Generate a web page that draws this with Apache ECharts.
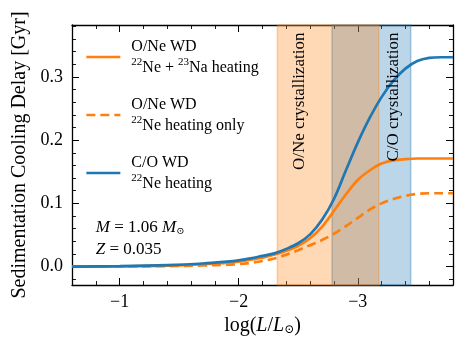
<!DOCTYPE html>
<html>
<head>
<meta charset="utf-8">
<script src="https://cdn.jsdelivr.net/npm/echarts@6/dist/echarts.min.js"></script>
<style>
  html, body { margin: 0; padding: 0; background: #fff; }
  #main { width: 468px; height: 352px; }
</style>
</head>
<body>
<div id="main"></div>
<script>
// log(L/Lsun) sample points
const lum = [-0.6, -1.0, -1.4, -1.7, -1.9, -2.0, -2.1, -2.2, -2.3, -2.4, -2.5, -2.6,
  -2.7, -2.8, -2.9, -3.0, -3.1, -3.2, -3.3, -3.4, -3.5, -3.6, -3.7, -3.8];

// sedimentation cooling delay [Gyr]
const oneFull = [0, 0.0005, 0.0015, 0.004, 0.006, 0.008, 0.011, 0.014, 0.019, 0.025, 0.033, 0.045,
  0.063, 0.088, 0.114, 0.137, 0.152, 0.163, 0.168, 0.170, 0.171, 0.171, 0.171, 0.171];
const oneNeOnly = [0, 0.0003, 0.0008, 0.0018, 0.003, 0.004, 0.006, 0.009, 0.013, 0.019, 0.026, 0.034,
  0.042, 0.052, 0.064, 0.077, 0.090, 0.100, 0.107, 0.112, 0.115, 0.116, 0.116, 0.116];
const coNe = [0, 0.0008, 0.0025, 0.005, 0.008, 0.010, 0.013, 0.017, 0.021, 0.028, 0.037, 0.051,
  0.074, 0.107, 0.152, 0.196, 0.235, 0.268, 0.294, 0.313, 0.325, 0.330, 0.331, 0.331];

// crystallization ranges in log(L/Lsun)
const oneCryst = [-2.325, -3.176];
const coCryst = [-2.784, -3.445];

const xTicks = [-1, -2, -3];
const yTicks = [0.0, 0.1, 0.2, 0.3];

const ORANGE = '#ff7f0e';
const BLUE = '#1f77b4';
const FONT = 'Liberation Serif';
const LW = 2.7;

function pairs(ys) {
  return lum.map((x, i) => [x, ys[i]]);
}
function minus(v) {
  return v < 0 ? '\u2212' + Math.abs(v) : String(v);
}

const rich = {
  sup: { fontSize: 11, lineHeight: 11, verticalAlign: 'top', fontFamily: FONT, color: '#000' },
  sub: { fontSize: 12, lineHeight: 12, verticalAlign: 'bottom', fontFamily: 'DejaVu Serif', color: '#000' },
  i: { fontStyle: 'italic', fontFamily: FONT, fontSize: 20, color: '#000' },
  ia: { fontStyle: 'italic', fontFamily: FONT, fontSize: 17, color: '#000' },
  sb: { fontSize: 10, fontFamily: 'DejaVu Serif', color: '#000', verticalAlign: 'bottom', lineHeight: 11 }
};

var chartDom = document.getElementById('main');
var myChart = echarts.init(chartDom, null, { renderer: 'canvas' });

const axisCommon = {
  type: 'value',
  splitLine: { show: false },
  axisLine: { show: true, onZero: false, lineStyle: { color: '#000', width: 1.3 } },
  axisTick: { show: true, inside: true, length: 7, lineStyle: { color: '#000', width: 1 } },
  minorTick: { show: true, splitNumber: 5, length: 4, lineStyle: { color: '#000', width: 0.9 } },
  minorSplitLine: { show: false }
};

const xBase = Object.assign({}, axisCommon, { min: -3.8, max: -0.6, inverse: true, splitNumber: 3 });
const yBase = Object.assign({}, axisCommon, { min: -0.029, max: 0.382, splitNumber: 4 });

var option = {
  animation: false,
  textStyle: { fontFamily: FONT },
  grid: { left: 72, right: 15, top: 25, bottom: 67 },
  legend: {
    orient: 'vertical',
    left: 85,
    top: 36,
    padding: 0,
    itemWidth: 34,
    itemHeight: 14,
    itemGap: 16,
    itemStyle: { opacity: 0 },
    lineStyle: { width: LW },
    data: ['one', 'oneNe', 'co'],
    textStyle: { fontFamily: FONT, fontSize: 16, color: '#000', lineHeight: 21, padding: [0, 0, 0, 6], rich: rich },
    formatter: function (name) {
      if (name === 'one') return 'O/Ne WD\n{sup|22}Ne + {sup|23}Na heating';
      if (name === 'oneNe') return 'O/Ne WD\n{sup|22}Ne heating only';
      return 'C/O WD\n{sup|22}Ne heating';
    }
  },
  xAxis: [
    Object.assign({}, xBase, {
      position: 'bottom',
      name: 'log({i|L}/{i|L}{sub|\u2299})',
      nameLocation: 'middle',
      nameGap: 30,
      nameTextStyle: { fontFamily: FONT, fontSize: 20, color: '#000', rich: rich },
      axisLabel: {
        fontFamily: FONT, fontSize: 18, color: '#000', margin: 8,
        showMinLabel: false, showMaxLabel: false,
        formatter: v => (xTicks.indexOf(v) >= 0 ? minus(v) : '')
      }
    }),
    Object.assign({}, xBase, { position: 'top', axisLabel: { show: false } })
  ],
  yAxis: [
    Object.assign({}, yBase, {
      position: 'left',
      name: 'Sedimentation Cooling Delay [Gyr]',
      nameLocation: 'middle',
      nameGap: 40,
      nameTextStyle: { fontFamily: FONT, fontSize: 20, color: '#000' },
      axisLabel: {
        fontFamily: FONT, fontSize: 18, color: '#000', margin: 9,
        showMinLabel: false, showMaxLabel: false,
        formatter: v => (yTicks.indexOf(Math.round(v * 10) / 10) >= 0 && Math.abs(v * 10 - Math.round(v * 10)) < 1e-6 ? v.toFixed(1) : '')
      }
    }),
    Object.assign({}, yBase, { position: 'right', axisLabel: { show: false } })
  ],
  series: [
    {
      name: 'bands',
      type: 'line',
      data: [],
      silent: true,
      markArea: {
        silent: true,
        label: { show: false },
        data: [
          [{ xAxis: coCryst[0], itemStyle: { color: 'rgba(31,119,180,0.3)', borderColor: 'rgba(31,119,180,0.35)', borderWidth: 1.5 } }, { xAxis: coCryst[1] }],
          [{ xAxis: oneCryst[0], itemStyle: { color: 'rgba(255,127,14,0.3)', borderColor: 'rgba(255,127,14,0.35)', borderWidth: 1.5 } }, { xAxis: oneCryst[1] }]
        ]
      }
    },
    {
      name: 'one', type: 'line', data: pairs(oneFull), showSymbol: false, symbol: 'none',
      smooth: 0.35,
      lineStyle: { color: ORANGE, width: LW }, itemStyle: { color: ORANGE }
    },
    {
      name: 'oneNe', type: 'line', data: pairs(oneNeOnly), showSymbol: false, symbol: 'none',
      smooth: 0.35,
      lineStyle: { color: ORANGE, width: LW, type: [9, 5] }, itemStyle: { color: ORANGE }
    },
    {
      name: 'co', type: 'line', data: pairs(coNe), showSymbol: false, symbol: 'none',
      smooth: 0.35,
      lineStyle: { color: BLUE, width: LW }, itemStyle: { color: BLUE }
    }
  ]
};

option && myChart.setOption(option);

// annotations placed in data coordinates
function px(x, y) {
  return myChart.convertToPixel({ xAxisIndex: 0, yAxisIndex: 0 }, [x, y]);
}
const pOne = px(-2.51, 0.370);
const pCo = px(-3.30, 0.370);
const pM = px(-0.8, 0.062);
const pZ = px(-0.8, 0.027);

myChart.setOption({
  graphic: [
    {
      type: 'text', x: pOne[0], y: pOne[1], rotation: Math.PI / 2, z: 10,
      style: { text: 'O/Ne crystallization', font: '17px "Liberation Serif"', fill: '#000', align: 'right', verticalAlign: 'middle' }
    },
    {
      type: 'text', x: pCo[0], y: pCo[1], rotation: Math.PI / 2, z: 10,
      style: { text: 'C/O crystallization', font: '17px "Liberation Serif"', fill: '#000', align: 'right', verticalAlign: 'middle' }
    },
    {
      type: 'text', x: pM[0], y: pM[1], z: 10,
      style: {
        text: '{ia|M} = 1.06 {ia|M}{sb|\u2299}', fontFamily: FONT, fontSize: 17, fill: '#000',
        align: 'left', verticalAlign: 'middle', rich: rich
      }
    },
    {
      type: 'text', x: pZ[0], y: pZ[1], z: 10,
      style: {
        text: '{ia|Z} = 0.035', fontFamily: FONT, fontSize: 17, fill: '#000',
        align: 'left', verticalAlign: 'middle', rich: rich
      }
    }
  ]
});
</script>
</body>
</html>
